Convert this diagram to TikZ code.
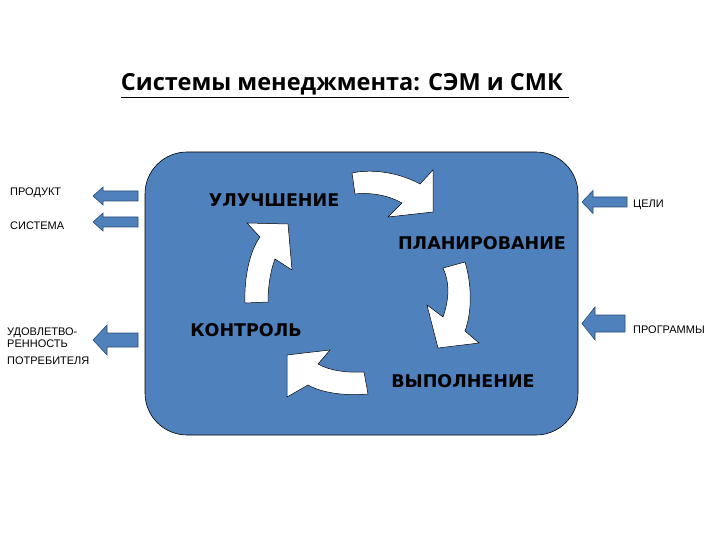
\documentclass[tikz,border=0pt]{standalone}
\usepackage{fontspec}
\setmainfont{Liberation Sans}
\newfontfamily\titlefont{Open Sans}
\newfontfamily\stagefont{DejaVu Sans}
\usepackage{tikz}
\usetikzlibrary{positioning}
\definecolor{panelblue}{RGB}{79,129,189}
\definecolor{edgeblue}{RGB}{44,77,117}

\begin{document}
\begin{tikzpicture}[
        x=1pt, y=-1pt,
        panel/.style={rectangle, draw=black, fill=panelblue, rounded corners=42pt, line width=0.6pt, inner sep=0pt},
        stage/.style={font=\stagefont\bfseries\fontsize{17.5}{20}\selectfont, inner sep=0pt},
        side/.style={font=\fontsize{11}{12}\selectfont, inner sep=0pt, anchor=west, align=left},
        cyclearrow/.style={fill=white, draw=black, line width=0.5pt, line join=miter},
        blockarrow/.style={fill=panelblue, draw=edgeblue, line width=0.6pt}
    ]
    \useasboundingbox (0,0) rectangle (720,540);
    \node[font=\titlefont\bfseries\fontsize{23.5}{26}\selectfont, anchor=base, inner sep=0pt] (title) at (345,91) {\underline{Системы менеджмента: СЭМ и СМК\ }};
    \node[panel, minimum width=433pt, minimum height=283pt] (panel) at (361.5,293.5) {};
    % stages of the cycle
    \node[stage] (improve) at (274,200) {УЛУЧШЕНИЕ};
    \node[stage] (plan) at (482,243) {ПЛАНИРОВАНИЕ};
    \node[stage] (control) at (246,330) {КОНТРОЛЬ};
    \node[stage] (execute) at (463,381) {ВЫПОЛНЕНИЕ};
    % curved arrows
    \draw[cyclearrow] (352,173) .. controls (375,168) and (402,174) .. (420,184) -- (433,170) -- (433,212) -- (388,217) -- (402,203) .. controls (390,196) and (372,192) .. (355,194) -- cycle;
    \draw[cyclearrow] (465,262) .. controls (472,285) and (472,312) .. (465,331) -- (479,343) -- (438,348) -- (427,305) -- (443,317) .. controls (449,300) and (450,283) .. (443,268) -- cycle;
    \draw[cyclearrow] (368,394) .. controls (345,396) and (322,393) .. (308,385) -- (287,397) -- (287,355) -- (330,350) -- (318,364) .. controls (328,370) and (345,373) .. (364,372) -- cycle;
    \draw[cyclearrow] (245,303) .. controls (244,280) and (249,252) .. (260,237) -- (247,223) -- (288,224) -- (292,270) -- (275,259) .. controls (270,272) and (268,288) .. (268,302) -- cycle;
    % outputs
    \node[side] (product) at (10,193) {ПРОДУКТ};
    \node[side] (system) at (10,225.5) {СИСТЕМА};
    \node[side] (satisfaction) at (7,337.5) {УДОВЛЕТВО-\\РЕННОСТЬ};
    \node[side] (consumer) at (7,360.5) {ПОТРЕБИТЕЛЯ};
    \draw[blockarrow] (93,196) -- (103,187) -- (103,191) -- (138,191) -- (138,201) -- (103,201) -- (103,205) -- cycle;
    \draw[blockarrow] (93,222) -- (103,213) -- (103,217) -- (138,217) -- (138,227) -- (103,227) -- (103,231) -- cycle;
    \draw[blockarrow] (93,340) -- (107,325) -- (107,333) -- (138,333) -- (138,347) -- (107,347) -- (107,355) -- cycle;
    % inputs
    \node[side] (goals) at (633,205) {ЦЕЛИ};
    \node[side] (programs) at (633,329.5) {ПРОГРАММЫ};
    \draw[blockarrow] (582,202) -- (593,190.5) -- (593,197) -- (627,197) -- (627,207) -- (593,207) -- (593,213.5) -- cycle;
    \draw[blockarrow] (582,323.5) -- (595,307) -- (595,315) -- (625,315) -- (625,332) -- (595,332) -- (595,340) -- cycle;
\end{tikzpicture}
\end{document}
